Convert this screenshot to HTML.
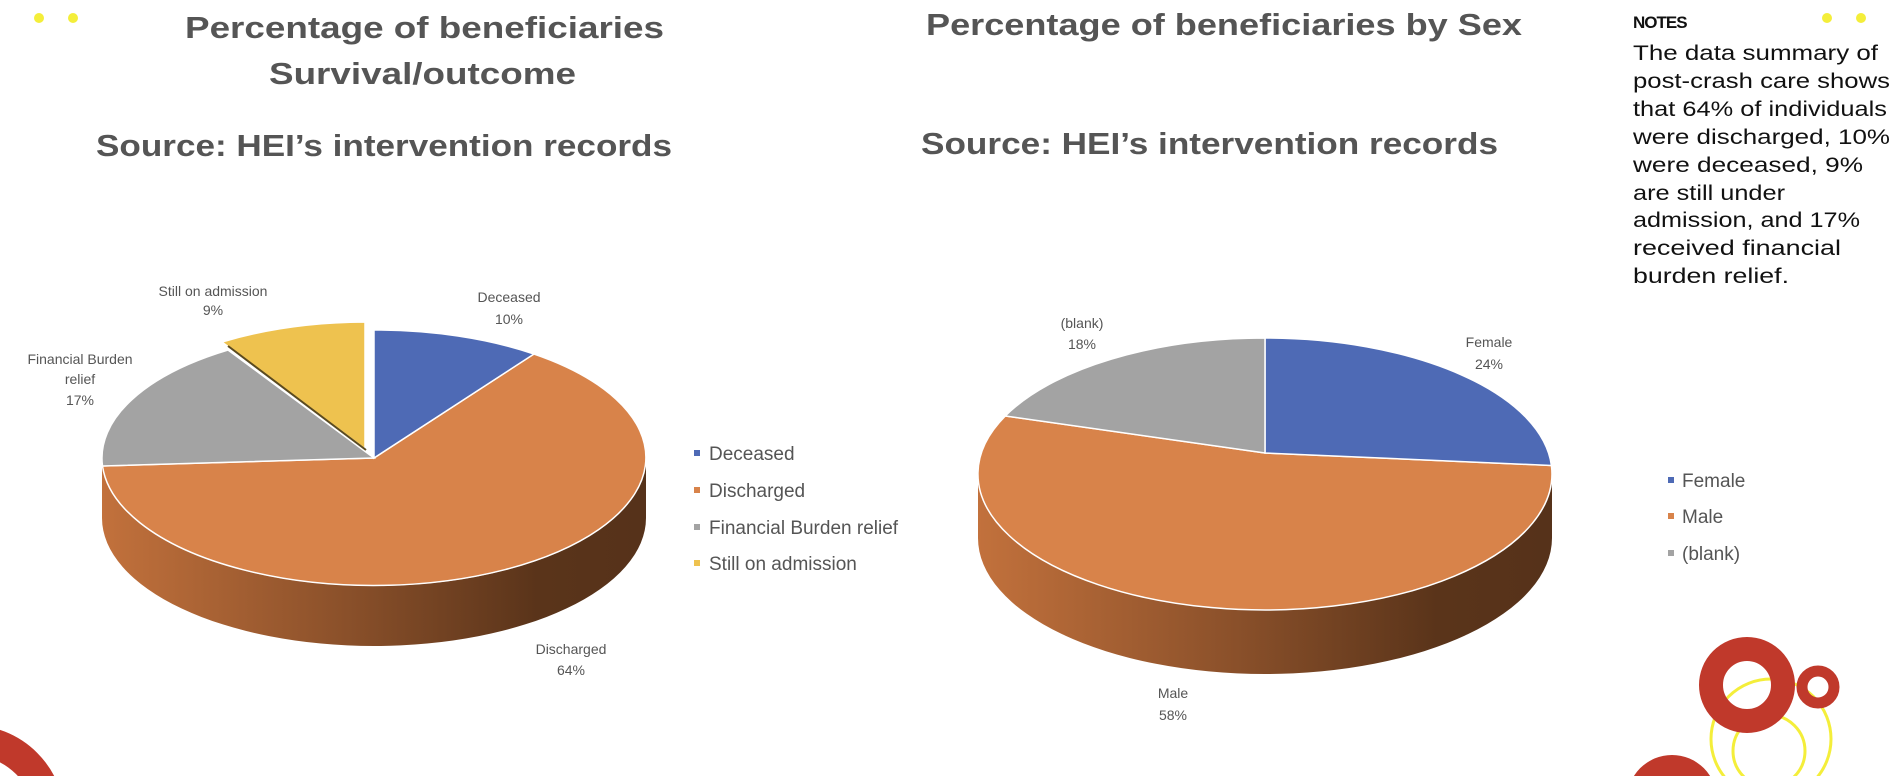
<!DOCTYPE html>
<html><head><meta charset="utf-8"><style>
html,body{margin:0;padding:0;background:#fff;width:1900px;height:776px;overflow:hidden;}
svg{display:block;}
text{font-family:"Liberation Sans",sans-serif;}
</style></head><body>
<svg width="1900" height="776" viewBox="0 0 1900 776" xmlns="http://www.w3.org/2000/svg">
<defs>
<linearGradient id="gl" x1="102" y1="0" x2="646" y2="0" gradientUnits="userSpaceOnUse">
<stop offset="0" stop-color="#c2713c"/><stop offset="0.45" stop-color="#8a502a"/><stop offset="0.8" stop-color="#5a341a"/><stop offset="1" stop-color="#56321a"/></linearGradient>
<linearGradient id="gr" x1="978" y1="0" x2="1552" y2="0" gradientUnits="userSpaceOnUse">
<stop offset="0" stop-color="#c2713c"/><stop offset="0.45" stop-color="#8a502a"/><stop offset="0.8" stop-color="#5a341a"/><stop offset="1" stop-color="#56321a"/></linearGradient>
</defs>

<!-- decorations -->
<circle cx="39" cy="18" r="5" fill="#f4ee3a"/><circle cx="73" cy="18" r="5" fill="#f4ee3a"/>
<circle cx="1827" cy="18" r="5" fill="#f4ee3a"/><circle cx="1861" cy="18" r="5" fill="#f4ee3a"/>
<circle cx="-30" cy="820" r="80" fill="none" stroke="#c0392b" stroke-width="30"/>
<circle cx="1672" cy="800" r="45" fill="#c0392b"/>
<circle cx="1771" cy="739" r="60" fill="none" stroke="#f4ee3a" stroke-width="3"/>
<circle cx="1769" cy="751" r="36" fill="none" stroke="#f4ee3a" stroke-width="3"/>
<circle cx="1747" cy="685" r="36" fill="none" stroke="#c0392b" stroke-width="24"/>
<circle cx="1818" cy="687" r="16" fill="none" stroke="#c0392b" stroke-width="11"/>

<!-- titles -->
<g fill="#555" font-weight="bold" font-size="31">
<text x="185" y="38" textLength="479" lengthAdjust="spacingAndGlyphs">Percentage of beneficiaries</text>
<text x="269" y="84" textLength="307" lengthAdjust="spacingAndGlyphs">Survival/outcome</text>
<text x="96" y="156" textLength="576" lengthAdjust="spacingAndGlyphs">Source: HEI’s intervention records</text>
<text x="926" y="35" textLength="596" lengthAdjust="spacingAndGlyphs">Percentage of beneficiaries by Sex</text>
<text x="921" y="154" textLength="577" lengthAdjust="spacingAndGlyphs">Source: HEI’s intervention records</text>
</g>

<!-- notes -->
<text x="1633" y="28" font-size="17" font-weight="bold" fill="#111" letter-spacing="-1">NOTES</text>
<g font-size="21" fill="#111">
<text x="1633" y="60" textLength="245" lengthAdjust="spacingAndGlyphs">The data summary of</text>
<text x="1633" y="88" textLength="257" lengthAdjust="spacingAndGlyphs">post-crash care shows</text>
<text x="1633" y="116" textLength="254" lengthAdjust="spacingAndGlyphs">that 64% of individuals</text>
<text x="1633" y="144" textLength="257" lengthAdjust="spacingAndGlyphs">were discharged, 10%</text>
<text x="1633" y="172" textLength="230" lengthAdjust="spacingAndGlyphs">were deceased, 9%</text>
<text x="1633" y="200" textLength="152" lengthAdjust="spacingAndGlyphs">are still under</text>
<text x="1633" y="227" textLength="227" lengthAdjust="spacingAndGlyphs">admission, and 17%</text>
<text x="1633" y="255" textLength="208" lengthAdjust="spacingAndGlyphs">received financial</text>
<text x="1633" y="283" textLength="156" lengthAdjust="spacingAndGlyphs">burden relief.</text>
</g>

<!-- left pie -->
<path d="M102,458 A272,128 0 0 0 646,458 L646,518 A272,128 0 0 1 102,518 Z" fill="url(#gl)"/>
<path d="M374,458 L534,354 A272,128 0 1 1 102.5,466 Z" fill="#d8834a" stroke="#fff" stroke-width="1.5"/>
<path d="M374,458 L374,330 A272,128 0 0 1 534,354 Z" fill="#4e6ab5" stroke="#fff" stroke-width="1.5"/>
<path d="M374,458 L102.5,466 A272,128 0 0 1 228,350 Z" fill="#a3a3a3" stroke="#fff" stroke-width="1.5"/>
<path d="M365,449 L222,342 A272,128 0 0 1 365,322 Z" fill="#eec24f" stroke="#fff" stroke-width="1.5"/>
<line x1="366" y1="450" x2="228" y2="346" stroke="#5a4a20" stroke-width="2"/>

<g font-size="14" fill="#555" text-anchor="middle">
<text x="213" y="296">Still on admission</text><text x="213" y="315">9%</text>
<text x="509" y="302">Deceased</text><text x="509" y="324">10%</text>
<text x="80" y="364">Financial Burden</text><text x="80" y="384">relief</text><text x="80" y="405">17%</text>
<text x="571" y="654">Discharged</text><text x="571" y="675">64%</text>
</g>
<g font-size="19" fill="#555">
<rect x="694" y="450" width="6" height="6" fill="#4e6ab5"/><text x="709" y="460">Deceased</text>
<rect x="694" y="487" width="6" height="6" fill="#d8834a"/><text x="709" y="497">Discharged</text>
<rect x="694" y="524" width="6" height="6" fill="#a3a3a3"/><text x="709" y="534">Financial Burden relief</text>
<rect x="694" y="560" width="6" height="6" fill="#eec24f"/><text x="709" y="570">Still on admission</text>
</g>

<!-- right pie -->
<path d="M978,474 A287,136 0 0 0 1552,474 L1552,538 A287,136 0 0 1 978,538 Z" fill="url(#gr)"/>
<path d="M1265,453 L1551.4,465.5 A287,136 0 1 1 1005.3,416 Z" fill="#d8834a" stroke="#fff" stroke-width="1.5"/>
<path d="M1265,453 L1265,338 A287,136 0 0 1 1551.4,465.5 Z" fill="#4e6ab5" stroke="#fff" stroke-width="1.5"/>
<path d="M1265,453 L1005.3,416 A287,136 0 0 1 1265,338 Z" fill="#a3a3a3" stroke="#fff" stroke-width="1.5"/>

<g font-size="14" fill="#555" text-anchor="middle">
<text x="1082" y="328">(blank)</text><text x="1082" y="349">18%</text>
<text x="1489" y="347">Female</text><text x="1489" y="369">24%</text>
<text x="1173" y="698">Male</text><text x="1173" y="720">58%</text>
</g>
<g font-size="19" fill="#555">
<rect x="1668" y="477" width="6" height="6" fill="#4e6ab5"/><text x="1682" y="487">Female</text>
<rect x="1668" y="513" width="6" height="6" fill="#d8834a"/><text x="1682" y="523">Male</text>
<rect x="1668" y="550" width="6" height="6" fill="#a3a3a3"/><text x="1682" y="560">(blank)</text>
</g>
</svg>
</body></html>
